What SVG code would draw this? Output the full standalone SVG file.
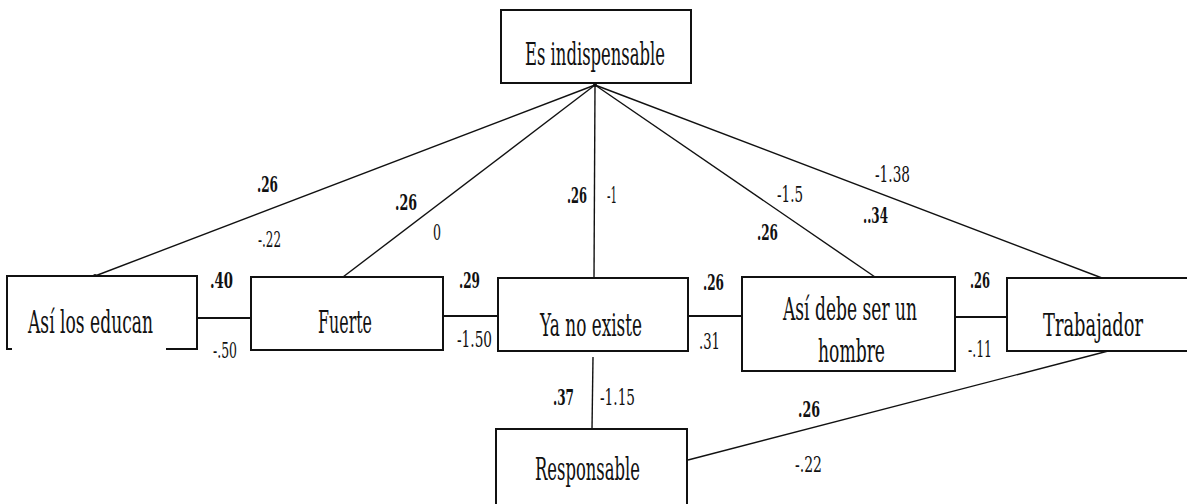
<svg xmlns="http://www.w3.org/2000/svg" width="1187" height="504" viewBox="0 0 1187 504">
<style>
.box{fill:#fff;stroke:#111;stroke-width:2}
.edge{fill:none;stroke:#111;stroke-width:1.4}
.hedge{fill:none;stroke:#111;stroke-width:2.2}
.node{font-size:31px}
.num{font-size:23px}
.b{font-weight:bold}
</style>
<rect width="1187" height="504" fill="#fff"/>
<g id="connectors">
<line class="edge" x1="595" y1="85" x2="95" y2="276"/>
<line class="edge" x1="595" y1="85" x2="343" y2="277"/>
<line class="edge" x1="595" y1="85" x2="594" y2="278"/>
<line class="edge" x1="595" y1="85" x2="875" y2="277"/>
<line class="edge" x1="595" y1="85" x2="1102" y2="278"/>
<line class="hedge" x1="197" y1="318" x2="251" y2="318"/>
<line class="hedge" x1="443" y1="316" x2="498" y2="316"/>
<line class="hedge" x1="688" y1="316" x2="742" y2="316"/>
<line class="hedge" x1="955" y1="317" x2="1007" y2="317"/>
<line class="edge" x1="593" y1="357" x2="592" y2="429"/>
<line class="edge" x1="688" y1="460" x2="1112" y2="350"/>
<circle cx="95" cy="276" r="2" fill="#111"/>
<circle cx="1112" cy="350" r="2" fill="#111"/>
<circle cx="595" cy="85" r="2" fill="#111"/>
</g>
<g font-family="DejaVu Serif, Liberation Serif, serif" fill="#111">
<g id="n-es">
<rect class="box" x="501" y="10" width="190" height="73"/>
<text class="node" x="525" y="65" textLength="140" lengthAdjust="spacingAndGlyphs">Es indispensable</text>
</g>
<g id="n-asi">
<path d="M197,341 V276 H7 V349 H12 M166,349 H197 V341" fill="#fff" stroke="#111" stroke-width="2"/>
<text class="node" x="28" y="333" textLength="125" lengthAdjust="spacingAndGlyphs">Así los educan</text>
</g>
<g id="n-fuerte">
<rect class="box" x="251" y="277" width="192" height="73"/>
<text class="node" x="318" y="333" textLength="54" lengthAdjust="spacingAndGlyphs">Fuerte</text>
</g>
<g id="n-ya">
<rect class="box" x="498" y="278" width="190" height="73"/>
<text class="node" x="540" y="336" textLength="102" lengthAdjust="spacingAndGlyphs">Ya no existe</text>
</g>
<g id="n-debe">
<rect class="box" x="742" y="277" width="213" height="94"/>
<text class="node" x="783" y="320" textLength="134" lengthAdjust="spacingAndGlyphs">Así debe ser un</text>
<text class="node" x="818" y="362" textLength="67" lengthAdjust="spacingAndGlyphs">hombre</text>
</g>
<g id="n-trab">
<rect class="box" x="1007" y="278" width="190" height="73"/>
<text class="node" x="1043" y="336" textLength="100" lengthAdjust="spacingAndGlyphs">Trabajador</text>
</g>
<g id="n-resp">
<rect class="box" x="496" y="429" width="191" height="85"/>
<text class="node" x="535" y="480" textLength="105" lengthAdjust="spacingAndGlyphs">Responsable</text>
</g>
<g id="labels">
<text class="num b" x="257" y="192" textLength="21" lengthAdjust="spacingAndGlyphs">.26</text>
<text class="num" x="258" y="247" textLength="23" lengthAdjust="spacingAndGlyphs">-.22</text>
<text class="num b" x="210" y="288" textLength="23" lengthAdjust="spacingAndGlyphs">.40</text>
<text class="num" x="213" y="358" textLength="24" lengthAdjust="spacingAndGlyphs">-.50</text>
<text class="num b" x="395" y="210" textLength="22" lengthAdjust="spacingAndGlyphs">.26</text>
<text class="num" x="433" y="240" textLength="8" lengthAdjust="spacingAndGlyphs">0</text>
<text class="num b" x="567" y="203" textLength="20" lengthAdjust="spacingAndGlyphs">.26</text>
<text class="num" x="607" y="203" textLength="10" lengthAdjust="spacingAndGlyphs">-1</text>
<text class="num b" x="459" y="288" textLength="21" lengthAdjust="spacingAndGlyphs">.29</text>
<text class="num" x="457" y="347" textLength="35" lengthAdjust="spacingAndGlyphs">-1.50</text>
<text class="num b" x="553" y="405" textLength="21" lengthAdjust="spacingAndGlyphs">.37</text>
<text class="num" x="600" y="405" textLength="35" lengthAdjust="spacingAndGlyphs">-1.15</text>
<text class="num b" x="703" y="290" textLength="21" lengthAdjust="spacingAndGlyphs">.26</text>
<text class="num" x="699" y="349" textLength="21" lengthAdjust="spacingAndGlyphs">.31</text>
<text class="num" x="777" y="202" textLength="26" lengthAdjust="spacingAndGlyphs">-1.5</text>
<text class="num b" x="757" y="240" textLength="21" lengthAdjust="spacingAndGlyphs">.26</text>
<text class="num" x="875" y="182" textLength="35" lengthAdjust="spacingAndGlyphs">-1.38</text>
<text class="num b" x="863" y="223" textLength="25" lengthAdjust="spacingAndGlyphs">..34</text>
<text class="num b" x="970" y="288" textLength="20" lengthAdjust="spacingAndGlyphs">.26</text>
<text class="num" x="968" y="357" textLength="24" lengthAdjust="spacingAndGlyphs">-.11</text>
<text class="num b" x="798" y="417" textLength="22" lengthAdjust="spacingAndGlyphs">.26</text>
<text class="num" x="795" y="472" textLength="27" lengthAdjust="spacingAndGlyphs">-.22</text>
</g>
</g>
</svg>
